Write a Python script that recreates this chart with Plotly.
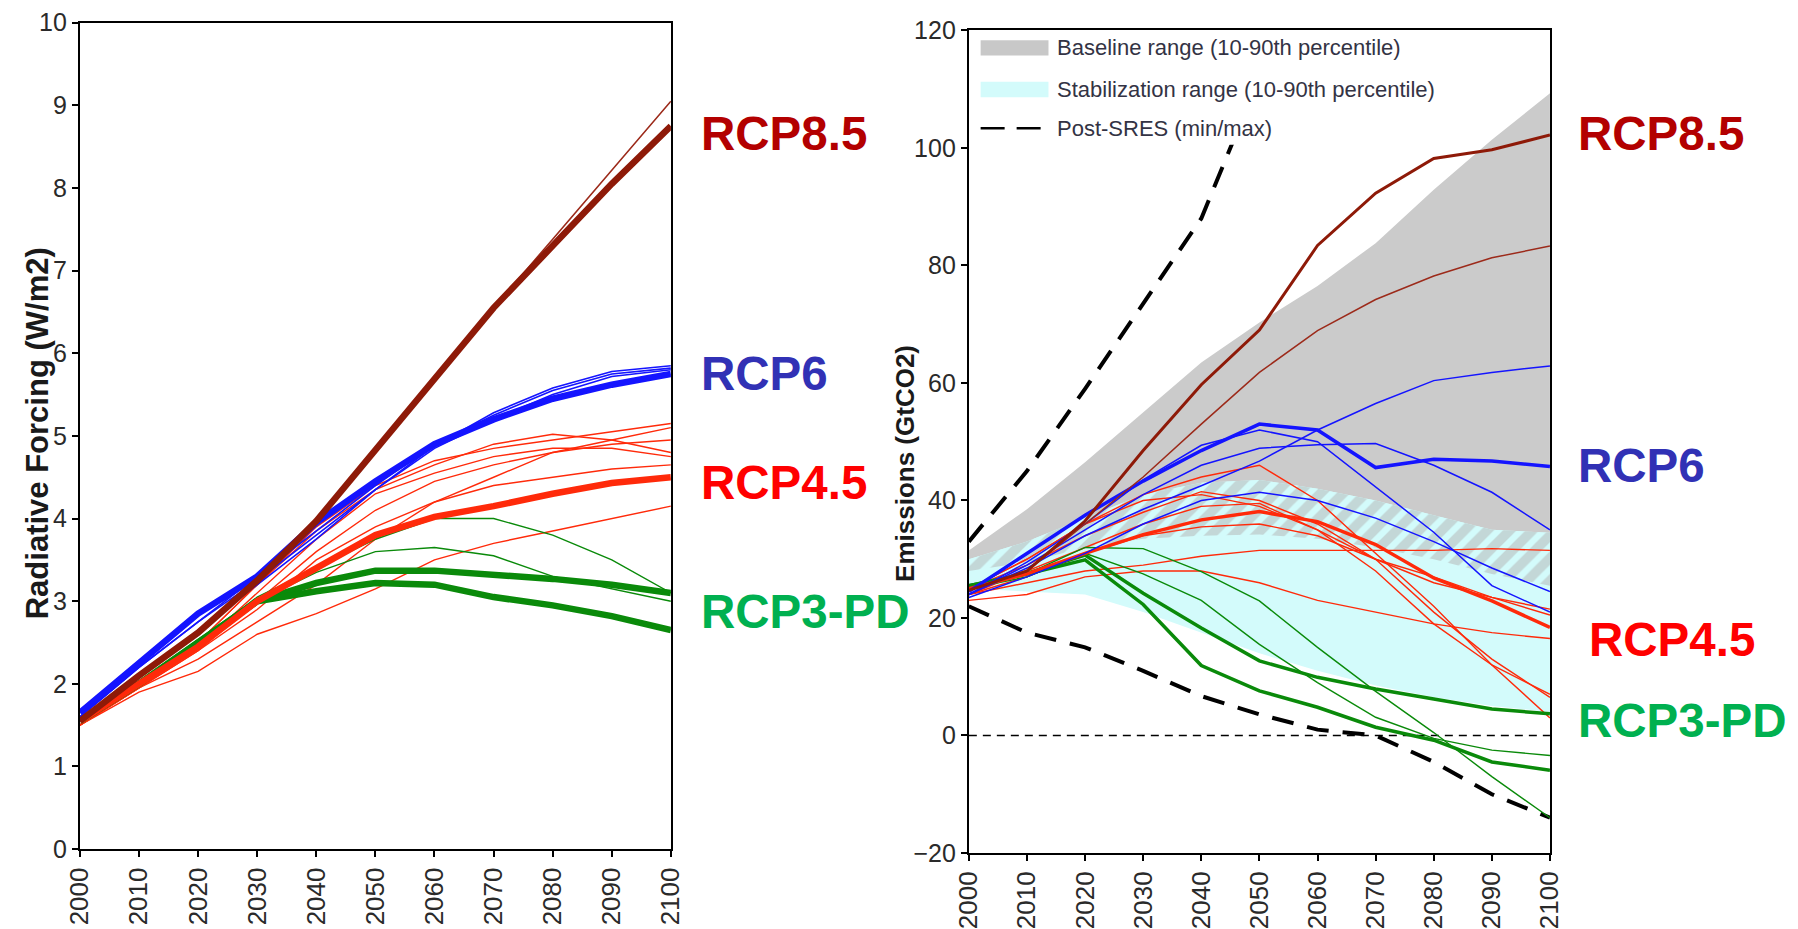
import plotly.graph_objects as go

W, H = 1798, 929
years = [2000, 2010, 2020, 2030, 2040, 2050, 2060, 2070, 2080, 2090, 2100]

# ---------------- Radiative forcing (W/m2) ----------------
rf_rcp85_main = [1.55, 2.1, 2.62, 3.25, 3.97, 4.82, 5.7, 6.55, 7.3, 8.05, 8.75]
rf_rcp85_alt = [1.55, 2.1, 2.62, 3.25, 3.97, 4.82, 5.7, 6.55, 7.38, 8.22, 9.05]

rf_rcp6_main = [1.65, 2.25, 2.85, 3.3, 3.95, 4.45, 4.9, 5.2, 5.45, 5.62, 5.75]
rf_rcp6_alt = [
    [1.6, 2.2, 2.75, 3.3, 3.85, 4.4, 4.9, 5.25, 5.55, 5.75, 5.82],
    [1.6, 2.2, 2.75, 3.25, 3.8, 4.35, 4.85, 5.2, 5.5, 5.72, 5.8],
    [1.55, 2.1, 2.65, 3.2, 3.75, 4.35, 4.88, 5.28, 5.58, 5.78, 5.85],
]

rf_rcp45_main = [1.55, 2.0, 2.45, 3.0, 3.4, 3.8, 4.02, 4.15, 4.3, 4.43, 4.5]
rf_rcp45_alt = [
    [1.5, 2.0, 2.5, 3.2, 3.9, 4.4, 4.7, 4.85, 4.95, 5.05, 5.15],
    [1.5, 2.0, 2.5, 3.2, 3.85, 4.35, 4.65, 4.9, 5.02, 4.95, 4.8],
    [1.5, 2.0, 2.45, 3.1, 3.75, 4.3, 4.55, 4.75, 4.85, 4.85, 4.75],
    [1.5, 1.95, 2.4, 3.0, 3.6, 4.1, 4.45, 4.65, 4.8, 4.9, 4.95],
    [1.5, 1.95, 2.4, 2.9, 3.5, 3.9, 4.2, 4.4, 4.5, 4.6, 4.65],
    [1.5, 1.95, 2.3, 2.75, 3.2, 3.75, 4.2, 4.5, 4.8, 4.95, 5.1],
    [1.5, 1.9, 2.15, 2.6, 2.85, 3.15, 3.5, 3.7, 3.85, 4.0, 4.15],
]

rf_rcp3_main = [
    [1.55, 2.0, 2.5, 3.0, 3.22, 3.37, 3.37, 3.32, 3.27, 3.2, 3.1],
    [1.55, 2.0, 2.5, 3.0, 3.12, 3.22, 3.2, 3.05, 2.95, 2.82, 2.65],
]
rf_rcp3_alt = [
    [1.55, 2.0, 2.5, 3.05, 3.4, 3.75, 4.0, 4.0, 3.8, 3.5, 3.1],
    [1.55, 2.0, 2.5, 3.0, 3.35, 3.6, 3.65, 3.55, 3.3, 3.15, 3.0],
]

# ---------------- CO2 emissions (GtCO2) ----------------
baseline_lo = [28, 29.5, 32, 33.5, 34, 34.2, 33.5, 32, 30, 27.5, 25.5]
baseline_hi = [31.5, 38.5, 46.5, 55, 63.5, 70.3, 76.5, 83.8, 92.9, 101.4, 109.3]
stab_lo = [25, 24.5, 24, 21, 17.5, 14, 11, 8.5, 6.5, 5, 4]
stab_hi = [30, 33, 37, 41, 43, 43.5, 42, 40, 37.5, 35, 34.5]

sres_max = [33, 45, 59, 73.5, 88, 112, 136]
sres_max_years = [2000, 2010, 2020, 2030, 2040, 2050, 2060]
sres_min = [22, 17.5, 15, 11, 6.7, 3.6, 1.0, 0, -4.5, -10, -14]

em_rcp85_main = [24.7, 28, 36.5, 48.5, 59.7, 69, 83.4, 92.3, 98.2, 99.7, 102.2]
em_rcp85_alt = [24.7, 28, 36, 44, 53, 61.8, 68.9, 74.2, 78.2, 81.3, 83.3]

em_rcp6_main = [24.5, 31, 37.5, 43.3, 48.5, 53, 52, 45.6, 47, 46.7, 45.8]
em_rcp6_alt = [
    [24, 28.5, 34, 38.5, 42.5, 46.7, 52, 56.5, 60.4, 61.8, 62.9],
    [24, 29.5, 36, 43.5, 49.4, 52, 50, 42.3, 34.6, 25.5, 21],
    [24, 29, 35, 41, 46, 48.9, 49.5, 49.7, 46, 41.4, 35],
    [23.5, 27, 31, 36, 40, 41.4, 40, 37, 33, 28.5, 24.5],
]

em_rcp45_main = [25, 27.5, 31, 34.2, 36.7, 38.1, 36.4, 32.5, 26.8, 22.9, 18.4]
em_rcp45_alt = [
    [25, 30, 36, 41, 44, 46, 40, 31, 22, 12, 3],
    [25, 29, 34, 38, 41.5, 40, 36, 30, 21, 13, 6.5],
    [24, 26, 28, 29, 30.5, 31.5, 31.5, 31.5, 31.5, 31.8, 31.5],
    [23, 24, 27, 28, 28, 26, 23, 21, 19, 17.5, 16.5],
    [25, 30, 36, 40, 41, 39, 35, 30, 27, 23.5, 20.5],
    [24, 27, 31, 34, 35.5, 36, 34, 30, 26, 23.5, 21.5],
    [24, 28, 32, 36, 39, 39.5, 35, 28, 19, 12, 7],
]

em_rcp3_main = [
    [25.5, 27.6, 30.7, 24.2, 18.3, 12.7, 9.9, 7.9, 6.2, 4.5, 3.7],
    [25.5, 27.5, 29.9, 22.3, 11.9, 7.6, 4.8, 1.4, -0.8, -4.5, -5.9],
]
em_rcp3_alt = [
    [25, 27.5, 32, 31.8, 27.9, 22.9, 15, 7.5, 0.5, -7, -14],
    [25, 27, 31, 27.5, 23, 15.5, 9, 3.1, -0.5, -2.5, -3.4],
]

scenario_labels = ["RCP8.5", "RCP6", "RCP4.5", "RCP3-PD"]
label_colors = ["#b30000", "#3131b5", "#ff0000", "#00b050"]

# line colours
C85, C85T = "#8e1a08", "#9c2a1a"
C6 = "#1414ff"
C45 = "#ff2a0a"
C3 = "#0a8a0a"

fig = go.Figure()


def add_line(y, x=years, color="black", width=1.5, ax="", dash=None):
    fig.add_trace(go.Scatter(
        x=x, y=y, mode="lines", xaxis="x" + ax, yaxis="y" + ax,
        line=dict(color=color, width=width, dash=dash),
        hoverinfo="skip", showlegend=False))


# ----- left panel: forcing pathways -----
for s in rf_rcp45_alt:
    add_line(s, color=C45, width=1.4)
for s in rf_rcp3_alt:
    add_line(s, color=C3, width=1.4)
for s in rf_rcp3_main:
    add_line(s, color=C3, width=6.5)
add_line(rf_rcp45_main, color=C45, width=6.5)
for s in rf_rcp6_alt:
    add_line(s, color=C6, width=1.6)
add_line(rf_rcp6_main, color=C6, width=6.5)
add_line(rf_rcp85_alt, color=C85T, width=1.6)
add_line(rf_rcp85_main, color=C85, width=6.5)

# ----- right panel: range bands -----
AX2 = "2"


def add_band(lo, hi, fillcolor, pattern=None):
    fig.add_trace(go.Scatter(x=years, y=lo, mode="lines", line=dict(width=0),
                             xaxis="x2", yaxis="y2", hoverinfo="skip", showlegend=False))
    fig.add_trace(go.Scatter(x=years, y=hi, mode="lines", line=dict(width=0),
                             fill="tonexty", fillcolor=fillcolor, fillpattern=pattern,
                             xaxis="x2", yaxis="y2", hoverinfo="skip", showlegend=False))


add_band(baseline_lo, baseline_hi, "#cbcbcb")
add_band(stab_lo, stab_hi, "#d3fbfb")
# overlap of the two ranges is hatched
overlap_lo = [max(a, b) for a, b in zip(baseline_lo, stab_lo)]
overlap_hi = [max(min(a, b), lo) for a, b, lo in zip(baseline_hi, stab_hi, overlap_lo)]
add_band(overlap_lo, overlap_hi, "#d3fbfb",
         dict(shape="/", fgcolor="#b4b4b4", bgcolor="#d3fbfb", size=16, solidity=0.6))

# zero line and Post-SRES envelope
add_line([0] * len(years), color="black", width=1.5, ax=AX2, dash="8px,6px")
add_line(sres_max, x=sres_max_years, color="black", width=4, ax=AX2, dash="22px,14px")
add_line(sres_min, color="black", width=4, ax=AX2, dash="22px,14px")

# ----- right panel: emission pathways -----
for s in em_rcp45_alt:
    add_line(s, color=C45, width=1.4, ax=AX2)
for s in em_rcp3_alt:
    add_line(s, color=C3, width=1.4, ax=AX2)
for s in em_rcp3_main:
    add_line(s, color=C3, width=3.5, ax=AX2)
add_line(em_rcp45_main, color=C45, width=3.5, ax=AX2)
for s in em_rcp6_alt:
    add_line(s, color=C6, width=1.5, ax=AX2)
add_line(em_rcp6_main, color=C6, width=3.5, ax=AX2)
add_line(em_rcp85_alt, color=C85T, width=1.5, ax=AX2)
add_line(em_rcp85_main, color=C85, width=3, ax=AX2)


def px_x(p):
    return p / W


def px_y(p):
    return 1 - p / H


FONT = "Liberation Sans, Arial, sans-serif"
axis_common = dict(showline=True, linecolor="black", linewidth=2, mirror=True,
                   ticks="outside", ticklen=6, tickwidth=2, tickcolor="black",
                   showgrid=False, zeroline=False)
xfont = dict(family=FONT, size=26, color="#2a2a2a")
yfont = dict(family=FONT, size=25, color="#2a2a2a")

fig.update_layout(
    width=W, height=H, margin=dict(l=0, r=0, t=0, b=0),
    paper_bgcolor="white", plot_bgcolor="white", showlegend=False,
    xaxis=dict(domain=[px_x(65), px_x(666)], range=[2000, 2100], tickvals=years,
               tickangle=-90, anchor="y", tickfont=xfont, **axis_common),
    yaxis=dict(domain=[px_y(863), px_y(9)], range=[0, 10], dtick=1, anchor="x",
               tickfont=yfont, **axis_common),
    xaxis2=dict(domain=[px_x(969), px_x(1560)], range=[2000, 2100], tickvals=years,
                tickangle=-90, anchor="y2", tickfont=xfont, **axis_common),
    yaxis2=dict(domain=[px_y(867), px_y(17)], range=[-20, 120], dtick=20, anchor="x2",
                tickfont=yfont, **axis_common),
)

# axis titles
fig.add_annotation(text="<b>Radiative Forcing (W/m2)</b>", x=0.001, y=px_y(433),
                   xref="paper", yref="paper", xanchor="left", textangle=-90,
                   showarrow=False, font=dict(family=FONT, size=31, color="#1a1a1a"))
fig.add_annotation(text="<b>Emissions (GtCO2)</b>", x=px_x(904), y=px_y(464), xref="paper",
                   yref="paper", textangle=-90, showarrow=False,
                   font=dict(family=FONT, size=26, color="#1a1a1a"))

# legend box for the emissions panel
shapes = [
    dict(type="rect", xref="paper", yref="paper", layer="above",
         x0=px_x(971), x1=px_x(1445), y0=px_y(135), y1=px_y(19),
         fillcolor="white", line=dict(width=0)),
    dict(type="rect", xref="paper", yref="paper", layer="above",
         x0=px_x(981), x1=px_x(1050), y0=px_y(43), y1=px_y(27),
         fillcolor="#c8c8c8", line=dict(width=0)),
    dict(type="rect", xref="paper", yref="paper", layer="above",
         x0=px_x(981), x1=px_x(1050), y0=px_y(86), y1=px_y(70),
         fillcolor="#d3fbfb", line=dict(width=0)),
    dict(type="line", xref="paper", yref="paper", layer="above",
         x0=px_x(981), x1=px_x(1043), y0=px_y(118), y1=px_y(118),
         line=dict(color="black", width=2.5, dash="24px,12px")),
]
fig.update_layout(shapes=shapes)

legend_texts = ["Baseline range (10-90th percentile)",
                "Stabilization range (10-90th percentile)",
                "Post-SRES (min/max)"]
legend_y = [35, 78, 118]
for t, yy in zip(legend_texts, legend_y):
    fig.add_annotation(text=t, x=px_x(1057), y=px_y(yy), xref="paper", yref="paper",
                       xanchor="left", yanchor="middle", showarrow=False,
                       font=dict(family=FONT, size=22, color="#333344"))

# scenario labels beside each panel
left_label_y = [124, 371, 484, 617]
right_label_x = [1586, 1586, 1598, 1586]
right_label_y = [124, 467, 646, 730]
for name, col, ly, rx, ry in zip(scenario_labels, label_colors, left_label_y,
                                 right_label_x, right_label_y):
    f = dict(family=FONT, size=47.5, color=col)
    fig.add_annotation(text="<b>%s</b>" % name, x=px_x(695), y=px_y(ly), xref="paper",
                       yref="paper", xanchor="left", yanchor="middle", showarrow=False, font=f)
    fig.add_annotation(text="<b>%s</b>" % name, x=px_x(rx), y=px_y(ry), xref="paper",
                       yref="paper", xanchor="left", yanchor="middle", showarrow=False, font=f)

fig.write_html("out.html")
